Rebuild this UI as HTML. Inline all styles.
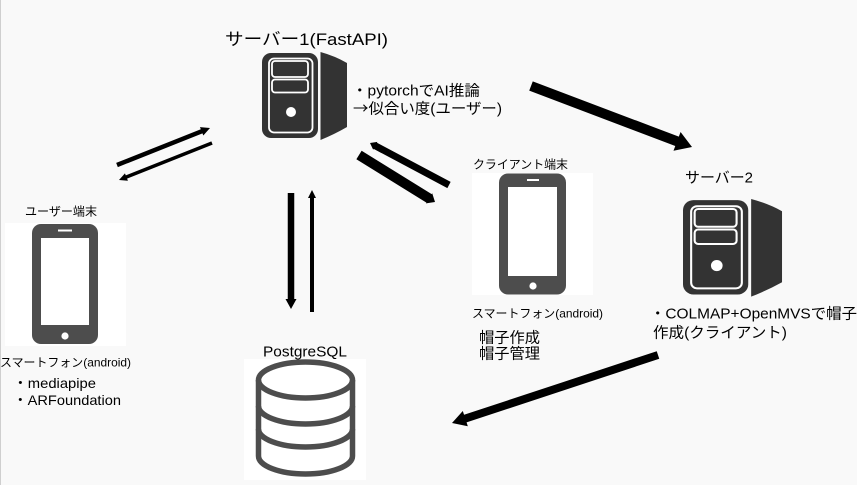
<!DOCTYPE html>
<html><head><meta charset="utf-8"><style>
html,body{margin:0;padding:0;background:#f9f9f9;}
svg{display:block;}
text{font-family:"Liberation Sans","Noto Sans CJK JP",sans-serif;fill:#000;}
</style></head><body>
<svg width="857" height="485" viewBox="0 0 857 485" xmlns="http://www.w3.org/2000/svg">
<rect x="0" y="0" width="857" height="485" fill="#f9f9f9"/>
<rect x="0" y="0" width="1" height="485" fill="#cfcfcf"/>

<!-- Server 1 -->
<g id="srv">
  <rect x="262" y="53" width="56" height="85" rx="9" fill="#333"/>
  <rect x="269" y="58.5" width="43.5" height="74" rx="5" fill="none" stroke="#fff" stroke-width="1.8"/>
  <rect x="272" y="61" width="36" height="16" rx="3" fill="#333" stroke="#fff" stroke-width="1.8"/>
  <rect x="272" y="79.5" width="36" height="13" rx="3" fill="#333" stroke="#fff" stroke-width="1.8"/>
  <circle cx="291" cy="112" r="5" fill="#fff"/>
  <path d="M320.5,52 Q335,56 347,63 L347,127 Q335,134 320.5,140 Z" fill="#333"/>
</g>
<!-- Server 2 -->
<use href="#srv" transform="translate(683,199) scale(1.165,1.11) translate(-262,-52)"/>

<!-- Phone 1 -->
<rect x="5" y="223" width="121" height="123" fill="#fff"/>
<rect x="32" y="224" width="66" height="120" rx="9" fill="#4d4d4d"/>
<rect x="41" y="238" width="48" height="87" fill="#fff"/>
<rect x="58" y="229.5" width="14" height="2" fill="#fff"/>
<circle cx="65" cy="336" r="3.6" fill="#fff"/>

<!-- Phone 2 -->
<rect x="472" y="173" width="121" height="122" fill="#fff"/>
<rect x="499" y="173.5" width="67" height="121" rx="9" fill="#4d4d4d"/>
<rect x="508" y="187" width="49" height="89" fill="#fff"/>
<rect x="527" y="179" width="12" height="2" fill="#fff"/>
<circle cx="533" cy="286" r="3.6" fill="#fff"/>

<!-- Database -->
<rect x="244" y="359" width="122" height="121" fill="#fff"/>
<g fill="none" stroke="#4d4d4d" stroke-width="5.5">
  <ellipse cx="305.5" cy="380" rx="47" ry="18"/>
  <path d="M258.5,380 L258.5,456 A47,18 0 0 0 352.5,456 L352.5,380"/>
  <path d="M258.5,406 A47,18 0 0 0 352.5,406"/>
  <path d="M258.5,429 A47,18 0 0 0 352.5,429"/>
</g>

<!-- Arrows -->
<g fill="#000">
  <polygon points="117.83,167.09 202.47,133.42 203.31,135.51 210,128 199.97,127.15 200.81,129.24 116.17,162.91"/>
  <polygon points="211.35,141.37 125.78,175.41 124.95,173.32 119,180 127.91,180.76 127.08,178.67 212.65,144.63"/>
  <polygon points="287.75,193 294.25,193 294.25,299 296.5,299 291,309 285.5,299 287.75,299"/>
  <polygon points="310,312 314,312 314,198 316,198 312,190 308,198 310,198"/>
  <polygon points="450.64,181.91 376.94,142.72 377.41,141.84 370,143 373.19,149.78 373.66,148.90 447.36,188.09"/>
  <polygon points="356.37,159.25 426.42,202.57 425.89,203.42 435,202 432.21,193.22 431.68,194.07 361.63,150.75"/>
  <polygon points="529.23,90.68 675.27,146.02 673.50,150.69 692,147 680.58,131.99 678.81,136.66 532.77,81.32"/>
  <polygon points="656.74,351.2 464.04,414.81 462.79,411.01 452,423 467.81,426.21 466.56,422.41 659.26,358.8"/>
</g>

<!-- Labels -->
<text x="225" y="45" font-size="17" textLength="163" lengthAdjust="spacingAndGlyphs">サーバー1(FastAPI)</text>
<text x="352" y="95.5" font-size="15" textLength="128" lengthAdjust="spacingAndGlyphs">・pytorchでAI推論</text>
<text x="353" y="113.5" font-size="15" textLength="149" lengthAdjust="spacingAndGlyphs"><tspan style="font-family:'Noto Sans CJK JP',sans-serif">→</tspan>似合い度(ユーザー)</text>

<text x="25" y="215.5" font-size="12" textLength="72" lengthAdjust="spacingAndGlyphs">ユーザー端末</text>
<text x="0" y="366.5" font-size="12" textLength="131" lengthAdjust="spacingAndGlyphs">スマートフォン(android)</text>
<text x="13" y="388" font-size="14" textLength="83" lengthAdjust="spacingAndGlyphs">・mediapipe</text>
<text x="13" y="405" font-size="14" textLength="108" lengthAdjust="spacingAndGlyphs">・ARFoundation</text>

<text x="473" y="168.5" font-size="12" textLength="95" lengthAdjust="spacingAndGlyphs">クライアント端末</text>
<text x="472" y="317.5" font-size="12" textLength="131" lengthAdjust="spacingAndGlyphs">スマートフォン(android)</text>
<text x="479" y="342.5" font-size="15" textLength="61" lengthAdjust="spacingAndGlyphs">帽子作成</text>
<text x="479" y="358.5" font-size="15" textLength="61" lengthAdjust="spacingAndGlyphs">帽子管理</text>

<text x="685" y="182.5" font-size="15" textLength="68" lengthAdjust="spacingAndGlyphs">サーバー2</text>
<text x="650" y="318.5" font-size="15" textLength="207" lengthAdjust="spacingAndGlyphs">・COLMAP+OpenMVSで帽子</text>
<text x="653" y="337.5" font-size="15" textLength="134" lengthAdjust="spacingAndGlyphs">作成(クライアント)</text>

<text x="263" y="356.5" font-size="15" textLength="84" lengthAdjust="spacingAndGlyphs">PostgreSQL</text>
</svg>
</body></html>
